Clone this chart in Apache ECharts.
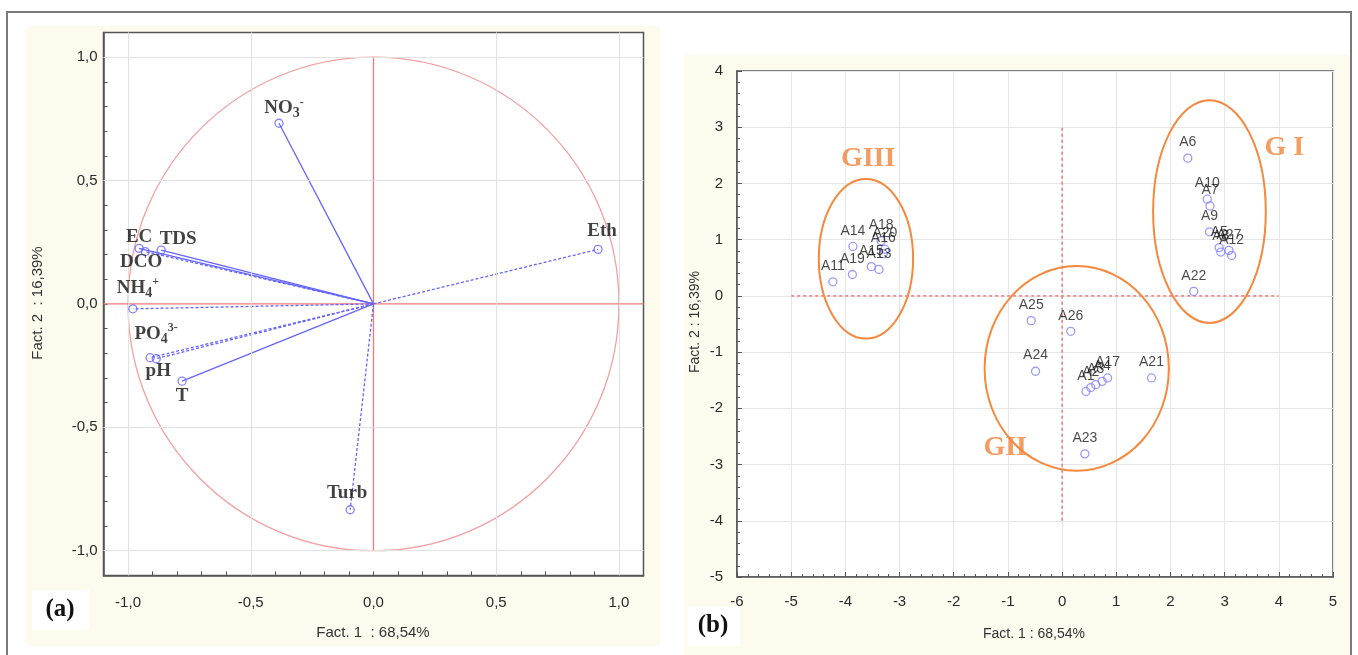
<!DOCTYPE html>
<html><head><meta charset="utf-8">
<script src="https://cdn.jsdelivr.net/npm/echarts@6/dist/echarts.min.js"></script>
<style>html,body{margin:0;padding:0;background:#fff}#c{width:1358px;height:655px}</style>
</head><body><div id="c"></div>
<script>
// ---------- (a) variable loadings ----------
const varNames = ['NO3', 'Eth', 'EC', 'TDS', 'DCO', 'NH4', 'PO4', 'pH', 'T', 'Turb'];
const varF1 = [-0.385, 0.915, -0.955, -0.865, -0.93, -0.98, -0.91, -0.885, -0.78, -0.095];
const varF2 = [0.732, 0.221, 0.225, 0.218, 0.212, -0.02, -0.218, -0.222, -0.313, -0.834];
const gridValsA = [-1, -0.5, 0.5, 1];
const crossAH = [[-1.1, 0], [1.1, 0]];
const crossAV = [[0, -1], [0, 1]];

// ---------- (b) sample scores ----------
const sampleNames = ['A1','A2','A3','A4','A5','A6','A7','A8','A9','A10','A11','A12','A13','A14','A15','A16','A17','A18','A19','A20','A21','A22','A23','A24','A25','A26','A27'];
const scoreF1 = [0.44, 0.53, 0.62, 0.74, 2.90, 2.32, 2.73, 2.93, 2.72, 2.68, -4.23, 3.13, -3.38, -3.86, -3.52, -3.30, 0.84, -3.34, -3.87, -3.27, 1.65, 2.43, 0.42, -0.49, -0.57, 0.16, 3.08];
const scoreF2 = [-1.70, -1.63, -1.58, -1.52, 0.86, 2.45, 1.60, 0.78, 1.14, 1.72, 0.25, 0.72, 0.47, 0.88, 0.52, 0.75, -1.46, 0.98, 0.38, 0.83, -1.46, 0.08, -2.81, -1.34, -0.44, -0.63, 0.81];
const groupNames = ['G I', 'GII', 'GIII'];
const groupF1 = [4.1, -1.05, -3.58];
const groupF2 = [2.63, -2.7, 2.44];
const ellCx = [2.72, 0.27, -3.62];
const ellCy = [1.50, -1.29, 0.66];
const ellRx = [1.04, 1.70, 0.87];
const ellRy = [1.98, 1.82, 1.42];
const crossBH = [[-5, 0], [4, 0]];
const crossBV = [[0, -4], [0, 3]];

// ---------- styles ----------
const BLUE = '#6464ff';
const SERIF = 'Liberation Serif';
const SANS = 'Liberation Sans';
const varStyle = {
  NO3:  {text: '{m|NO}{sub|3}{sup|-}', offset: [5, 2], dash: false},
  Eth:  {text: '{m|Eth}', offset: [4, -2], dash: true},
  EC:   {text: '{m|EC}', offset: [0, 5], dash: false},
  TDS:  {text: '{m|TDS}', offset: [17, 6], dash: false},
  DCO:  {text: '{m|DCO}', offset: [-4, 27], dash: true},
  NH4:  {text: '{m|NH}{sub|4}{sup|+}', offset: [5, -4], dash: true},
  PO4:  {text: '{m|PO}{sub|4}{sup|3-}', offset: [6, -7], dash: true},
  pH:   {text: '{m|pH}', offset: [2, 29], dash: true},
  T:    {text: '{m|T}', offset: [0, 32], dash: false},
  Turb: {text: '{m|Turb}', offset: [-3, 0], dash: true}
};
const rich = {
  m:   {fontFamily: SERIF, fontWeight: 'bold', fontSize: 19, color: '#111', lineHeight: 24, verticalAlign: 'middle'},
  sub: {fontFamily: SERIF, fontWeight: 'bold', fontSize: 14, color: '#111', lineHeight: 14, verticalAlign: 'bottom'},
  sup: {fontFamily: SERIF, fontWeight: 'bold', fontSize: 12, color: '#111', lineHeight: 12, verticalAlign: 'top'}
};

function fmtA(v) {
  const r = Math.round(v * 10);
  if (r % 5 !== 0) return '';
  return (r / 10).toFixed(1).replace('.', ',');
}
const tickLabel = {fontFamily: SANS, fontSize: 15, color: '#2a2a2a'};
const axisLine = {show: true, onZero: false, lineStyle: {color: '#555', width: 1.5}};

const series = [];
// grid lines for (a) + red cross
series.push({
  type: 'line', xAxisIndex: 0, yAxisIndex: 0, data: crossAH, symbol: 'none', silent: true, z: 1,
  lineStyle: {color: '#f07a7a', width: 1.3},
  markLine: {
    silent: true, symbol: ['none', 'none'], label: {show: false}, animation: false,
    lineStyle: {color: '#e2e2e2', type: 'solid', width: 1},
    data: gridValsA.map(v => ({xAxis: v})).concat(gridValsA.map(v => ({yAxis: v})))
  }
});
series.push({type: 'line', xAxisIndex: 0, yAxisIndex: 0, data: crossAV, symbol: 'none', silent: true, z: 2,
  lineStyle: {color: '#f07a7a', width: 1.3}});
// vectors
varNames.forEach((n, i) => {
  series.push({
    type: 'line', xAxisIndex: 0, yAxisIndex: 0, symbol: 'none', silent: true, z: 3,
    data: [[0, 0], [varF1[i], varF2[i]]],
    lineStyle: {color: BLUE, width: 1.3, type: varStyle[n].dash ? [3, 2] : 'solid'}
  });
});
// points (a)
series.push({
  type: 'scatter', xAxisIndex: 0, yAxisIndex: 0, z: 5, symbol: 'circle', symbolSize: 8,
  itemStyle: {color: 'rgba(255,255,255,0)', borderColor: BLUE, borderWidth: 1.3},
  data: varNames.map((n, i) => ({
    name: n, value: [varF1[i], varF2[i]],
    label: {show: true, position: 'top', distance: 0, offset: varStyle[n].offset, formatter: varStyle[n].text, rich: rich}
  }))
});
// (b) red dashed cross
[crossBH, crossBV].forEach(d => series.push({
  type: 'line', xAxisIndex: 1, yAxisIndex: 1, data: d, symbol: 'none', silent: true, z: 2,
  lineStyle: {color: '#f07a7a', width: 1.5, type: [3, 3]}
}));
// samples
series.push({
  type: 'scatter', xAxisIndex: 1, yAxisIndex: 1, z: 5, symbol: 'circle', symbolSize: 8,
  itemStyle: {color: 'rgba(255,255,255,0)', borderColor: '#8080ff', borderWidth: 1.3},
  label: {show: true, position: 'top', distance: 4, formatter: '{b}', fontFamily: SANS, fontSize: 14, color: '#1a1a1a'},
  data: sampleNames.map((n, i) => ({name: n, value: [scoreF1[i], scoreF2[i]]}))
});
// group labels
series.push({
  type: 'scatter', xAxisIndex: 1, yAxisIndex: 1, z: 6, symbolSize: 0, silent: true,
  label: {show: true, position: 'inside', formatter: '{b}', fontFamily: SERIF, fontWeight: 'bold', fontSize: 28, color: '#f2843a'},
  data: groupNames.map((n, i) => ({name: n, value: [groupF1[i], groupF2[i]]}))
});

const option = {
  animation: false,
  backgroundColor: '#fff',
  grid: [
    {left: 103.5, top: 32.4, width: 540, height: 543, show: true, backgroundColor: '#fff', borderColor: '#555', borderWidth: 1.5},
    {left: 737, top: 71, width: 596, height: 506, show: true, backgroundColor: '#fff', borderColor: '#555', borderWidth: 1.5}
  ],
  xAxis: [
    {type: 'value', gridIndex: 0, min: -1.1, max: 1.1, interval: 0.1,
     axisLine: axisLine, axisTick: {inside: true, length: 4, lineStyle: {color: '#555'}},
     axisLabel: Object.assign({formatter: fmtA, margin: 20}, tickLabel), splitLine: {show: false}},
    {type: 'value', gridIndex: 1, min: -6, max: 5, interval: 1,
     axisLine: axisLine, axisTick: {inside: true, length: 5, lineStyle: {color: '#555'}},
     minorTick: {show: true, splitNumber: 5, length: 3, lineStyle: {color: '#555'}},
     axisLabel: Object.assign({margin: 17}, tickLabel), splitLine: {show: true, lineStyle: {color: '#e6e6e6'}}}
  ],
  yAxis: [
    {type: 'value', gridIndex: 0, min: -1.1, max: 1.1, interval: 0.1,
     axisLine: axisLine, axisTick: {inside: true, length: 4, lineStyle: {color: '#555'}},
     axisLabel: Object.assign({formatter: fmtA, margin: 6}, tickLabel), splitLine: {show: false}},
    {type: 'value', gridIndex: 1, min: -5, max: 4, interval: 1,
     axisLine: axisLine, axisTick: {inside: true, length: 5, lineStyle: {color: '#555'}},
     minorTick: {show: true, splitNumber: 5, length: 3, lineStyle: {color: '#555'}},
     axisLabel: Object.assign({margin: 14}, tickLabel), splitLine: {show: true, lineStyle: {color: '#e6e6e6'}}}
  ],
  graphic: {elements: [
    {id: 'bgA', type: 'rect', z: -10, silent: true, shape: {x: 26, y: 26, width: 634, height: 620}, style: {fill: '#fdfaee'}},
    {id: 'bgB', type: 'rect', z: -10, silent: true, shape: {x: 684, y: 55, width: 667, height: 605}, style: {fill: '#fdfaee'}},
    {id: 'frame', type: 'rect', z: -9, silent: true, shape: {x: 7, y: 12, width: 1344, height: 650}, style: {fill: 'none', stroke: '#7a7a7a', lineWidth: 2}},
    {id: 'boxA', type: 'rect', z: -8, silent: true, shape: {x: 32, y: 590, width: 57, height: 40}, style: {fill: '#fff'}},
    {id: 'boxB', type: 'rect', z: -8, silent: true, shape: {x: 688, y: 606, width: 52, height: 40}, style: {fill: '#fff'}},
    {id: 'ta', type: 'text', z: 10, x: 60, y: 610, style: {text: '(a)', font: 'bold 25px "Liberation Serif"', fill: '#111', textAlign: 'center', textVerticalAlign: 'middle'}},
    {id: 'tb', type: 'text', z: 10, x: 713, y: 626, style: {text: '(b)', font: 'bold 25px "Liberation Serif"', fill: '#111', textAlign: 'center', textVerticalAlign: 'middle'}},
    {id: 'xa', type: 'text', z: 10, x: 373, y: 633, style: {text: 'Fact. 1  : 68,54%', font: '15px "Liberation Sans"', fill: '#333', textAlign: 'center', textVerticalAlign: 'middle'}},
    {id: 'ya', type: 'text', z: 10, x: 38, y: 303, rotation: Math.PI / 2, style: {text: 'Fact. 2  : 16,39%', font: '15px "Liberation Sans"', fill: '#333', textAlign: 'center', textVerticalAlign: 'middle'}},
    {id: 'xb', type: 'text', z: 10, x: 1034, y: 634, style: {text: 'Fact. 1 : 68,54%', font: '14px "Liberation Sans"', fill: '#333', textAlign: 'center', textVerticalAlign: 'middle'}},
    {id: 'yb', type: 'text', z: 10, x: 695, y: 322, rotation: Math.PI / 2, style: {text: 'Fact. 2 : 16,39%', font: '14px "Liberation Sans"', fill: '#333', textAlign: 'center', textVerticalAlign: 'middle'}}
  ]},
  series: series
};

const chart = echarts.init(document.getElementById('c'), null, {renderer: 'canvas'});
chart.setOption(option);

// unit circle (a) and group ellipses (b), placed through the axes' scales
const extra = [];
const o0 = chart.convertToPixel({gridIndex: 0}, [0, 0]);
const o1 = chart.convertToPixel({gridIndex: 0}, [1, 1]);
extra.push({id: 'circA', type: 'ellipse', z: 1, silent: true,
  shape: {cx: o0[0], cy: o0[1], rx: o1[0] - o0[0], ry: o0[1] - o1[1]},
  style: {fill: 'none', stroke: '#f4a0a0', lineWidth: 1.3}});
groupNames.forEach((g, i) => {
  const c = chart.convertToPixel({gridIndex: 1}, [ellCx[i], ellCy[i]]);
  const e = chart.convertToPixel({gridIndex: 1}, [ellCx[i] + ellRx[i], ellCy[i] + ellRy[i]]);
  extra.push({id: 'ell' + i, type: 'ellipse', z: 4, silent: true,
    shape: {cx: c[0], cy: c[1], rx: e[0] - c[0], ry: c[1] - e[1]},
    style: {fill: 'none', stroke: '#f5883c', lineWidth: 2}});
});
chart.setOption({graphic: {elements: extra}});
</script>
</body></html>
